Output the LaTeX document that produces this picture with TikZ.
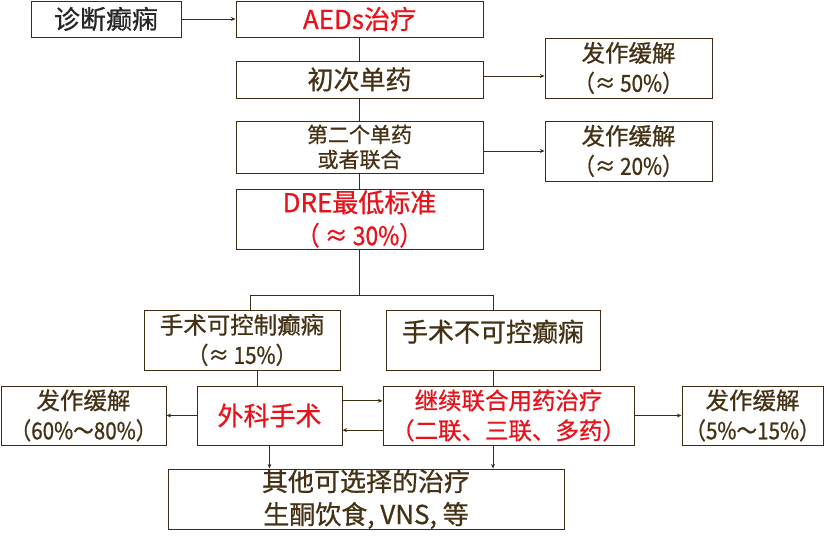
\documentclass[tikz,border=0pt]{standalone}
\usepackage{fontspec}
\setmainfont{Noto Sans CJK SC}[FakeBold=0.8]
\newfontfamily\pctfont{Noto Sans CJK SC}[FakeStretch=0.88,FakeBold=0.8]
\usetikzlibrary{arrows.meta,calc}
\definecolor{FlowLine}{HTML}{3D2B14}
\definecolor{FlowText}{HTML}{453214}
\definecolor{FlowRed}{HTML}{E8121B}
\tikzset{>={Stealth[length=3.5pt,width=3pt]},box/.style={draw=FlowLine,
 line width=.75pt,align=center,inner sep=0pt,text=FlowText,minimum height=45pt},
 big/.style={font=\fontsize{19.5}{24.75}\selectfont},
 mid/.style={font=\fontsize{17.6}{22.5}\selectfont},
 small/.style={font=\fontsize{15.75}{18.75}\selectfont},
 hot/.style={text=FlowRed},link/.style={draw=FlowLine,line width=.75pt}}

\begin{document}
\begin{tikzpicture}[x=.75pt,y=-.75pt]
\useasboundingbox (0,0) rectangle (827,537);
% main column
\node[box,big,text=black!85,minimum width=112.5pt,minimum height=27pt] (diag) at (106,19) {诊断癫痫};
\node[box,big,hot,minimum width=185.25pt,minimum height=27pt] (aed) at (359.5,19) {AEDs治疗};
\node[box,big,minimum width=185.25pt,minimum height=27.75pt] (mono) at (359.5,79.5) {初次单药};
\node[box,small,minimum width=185.25pt,minimum height=39pt] (second) at (359.5,147) {第二个单药\\或者联合};
\node[box,big,hot,minimum width=185.25pt] (dre) at (359.5,219) {DRE最低标准\\{\pctfont （ ≈ 30\%）}};
\node[box,mid,minimum width=125.25pt] (remA) at (628.5,68) {发作缓解\\{\pctfont （≈ 50\%）}};
\node[box,mid,minimum width=125.25pt] (remB) at (628.5,151) {发作缓解\\{\pctfont （≈ 20\%）}};
% two branches
\node[box,mid,minimum width=147pt] (ctrl) at (242,340) {手术可控制癫痫\\{\pctfont （≈ 15\%）}};
\node[box,big,minimum width=160.5pt,text depth=14pt] (unctrl) at (493,340) {手术不可控癫痫};
\node[box,mid,minimum width=123.75pt,minimum height=44.25pt] (remC) at (83.5,415.5) {发作缓解\\{\pctfont （60\%～80\%）}};
\node[box,big,hot,minimum width=108.75pt,minimum height=44.25pt] (surg) at (269.5,415.5) {外科手术};
\node[box,mid,hot,minimum width=188.25pt,minimum height=44.25pt] (combo) at (508.5,415.5) {继续联合用药治疗\\（二联、三联、多药）};
\node[box,mid,minimum width=105.75pt,minimum height=44.25pt] (remD) at (752.5,415.5) {发作缓解\\{\pctfont （5\%～15\%）}};
\node[box,big,minimum width=297pt] (other) at (366,499) {其他可选择的治疗\\生酮饮食, VNS, 等};
% connectors
\draw[link,->] (diag) -- (aed);
\draw[link] (aed) -- (mono);
\draw[link] (mono) -- (second);
\draw[link] (second) -- (dre);
\draw[link,->] ([yshift=2.6pt]mono.east) -- ([yshift=2.6pt]mono.east -| remA.west);
\draw[link,->] (remB.west -| second.east) -- (remB.west);
\coordinate (fork) at ($(dre.south)+(0,46)$);
\coordinate (ctrltop) at ($(ctrl.north)+(8,0)$);
\coordinate (drop) at ($(surg.north)+(-12.5,0)$);
\draw[link] (dre.south) -- (fork);
\draw[link] (ctrltop) |- (fork) -| (unctrl.north);
\draw[link] (drop) -- (drop |- ctrl.south);
\draw[link] (unctrl.south) -- (unctrl.south |- combo.north);
\draw[link,->] (surg.west) -- (remC.east);
\draw[link,->] ([yshift=11pt]surg.east) -- ([yshift=11pt]combo.west);
\draw[link,->] ([yshift=-11pt]combo.west) -- ([yshift=-11pt]surg.east);
\draw[link,->] (combo.east) -- (remD.west);
\draw[link,->] (surg.south) -- (surg.south |- other.north);
\draw[link,->] (unctrl.south |- combo.south) -- (unctrl.south |- other.north);
\end{tikzpicture}
\end{document}
